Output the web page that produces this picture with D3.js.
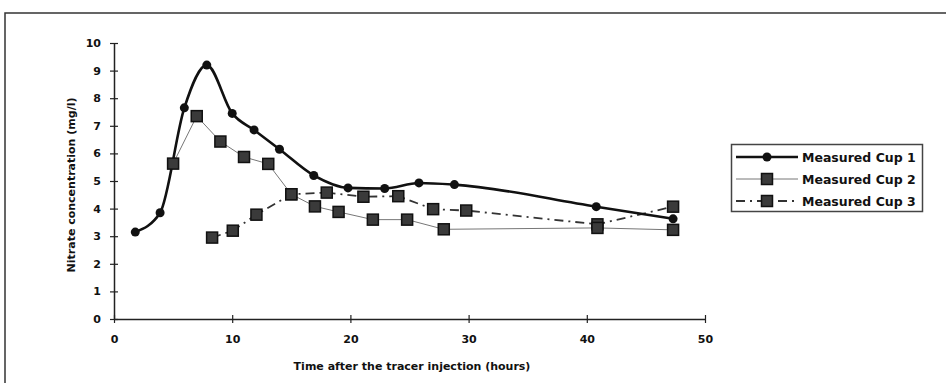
<!DOCTYPE html>
<html>
<head>
<meta charset="utf-8">
<script src="https://cdn.jsdelivr.net/npm/d3@7"></script>
<style>
  body { margin: 0; background: #fff; }
  svg { display: block; }
  text { font-family: "DejaVu Sans", sans-serif; font-weight: bold; fill: #111; }
</style>
</head>
<body>
<svg id="chart" width="946" height="383"></svg>
<script>
// values
const cup1Time = [1.8, 3.9, 5.95, 7.85, 10, 11.85, 14, 16.9, 19.8, 22.9, 25.8, 28.8, 40.8, 47.3];
const cup1Nitrate = [3.15, 3.85, 7.65, 9.2, 7.45, 6.85, 6.15, 5.2, 4.75, 4.73, 4.93, 4.87, 4.07, 3.63];

const cup2Time = [5, 7, 9, 11, 13.05, 15, 17, 19, 21.9, 24.8, 27.9, 40.9, 47.3];
const cup2Nitrate = [5.63, 7.35, 6.43, 5.87, 5.62, 4.52, 4.08, 3.88, 3.6, 3.6, 3.25, 3.3, 3.23];

const cup3Time = [8.3, 10.05, 12.05, 15, 18, 21.1, 24.05, 27, 29.8, 40.9, 47.3];
const cup3Nitrate = [2.95, 3.2, 3.78, 4.52, 4.58, 4.43, 4.45, 3.98, 3.93, 3.43, 4.07];

const xTicks = [0, 10, 20, 30, 40, 50];
const yTicks = [0, 1, 2, 3, 4, 5, 6, 7, 8, 9, 10];
const seriesNames = ["Measured Cup 1", "Measured Cup 2", "Measured Cup 3"];

const svg = d3.select("#chart");

// outer frame (right and bottom run off the page)
svg.append("rect")
  .attr("x", 5).attr("y", 13)
  .attr("width", 990).attr("height", 420)
  .attr("fill", "none")
  .attr("stroke", "#333")
  .attr("stroke-width", 1.5);

const x = d3.scaleLinear().domain([0, 50]).range([114, 705]);
const y = d3.scaleLinear().domain([0, 10]).range([319, 43]);

// axes, ticks cross the line like the excel original
const xAxis = svg.append("g").attr("transform", `translate(0,${y(0)})`)
  .call(d3.axisBottom(x).tickValues(xTicks).tickSizeInner(4).tickSizeOuter(0).tickPadding(12));
xAxis.select(".domain").attr("stroke", "#222").attr("stroke-width", 1.5);
xAxis.selectAll(".tick line").attr("y1", -4).attr("stroke", "#222").attr("stroke-width", 1.2);
xAxis.selectAll(".tick text").style("font-size", "11px").attr("fill", "#111");

const yAxis = svg.append("g").attr("transform", `translate(${x(0)},0)`)
  .call(d3.axisLeft(y).tickValues(yTicks).tickSizeInner(4).tickSizeOuter(0).tickPadding(9));
yAxis.select(".domain").attr("stroke", "#222").attr("stroke-width", 1.5);
yAxis.selectAll(".tick line").attr("x1", 4).attr("x2", -4).attr("stroke", "#222").attr("stroke-width", 1.2);
yAxis.selectAll(".tick text").style("font-size", "11px").attr("fill", "#111");

// axis titles
svg.append("text")
  .attr("x", 412).attr("y", 370)
  .attr("text-anchor", "middle")
  .style("font-size", "11px")
  .text("Time after the tracer injection (hours)");

svg.append("text")
  .attr("transform", `translate(75,${185}) rotate(-90)`)
  .attr("text-anchor", "middle")
  .style("font-size", "11px")
  .text("Nitrate concentration (mg/l)");

const toPoints = (ts, vs) => ts.map((t, i) => ({ t: t, v: vs[i] }));
const cup1 = toPoints(cup1Time, cup1Nitrate);
const cup2 = toPoints(cup2Time, cup2Nitrate);
const cup3 = toPoints(cup3Time, cup3Nitrate);

const smooth = d3.line().x(d => x(d.t)).y(d => y(d.v)).curve(d3.curveMonotoneX);
const straight = d3.line().x(d => x(d.t)).y(d => y(d.v));

const styles = [
  { color: "#111", width: 2.6, dash: null },
  { color: "#777", width: 1, dash: null },
  { color: "#333", width: 1.8, dash: "9,5,2,5" }
];

const plot = svg.append("g");

plot.append("path").datum(cup3).attr("d", straight)
  .attr("fill", "none").attr("stroke", styles[2].color)
  .attr("stroke-width", styles[2].width).attr("stroke-dasharray", styles[2].dash);
plot.append("path").datum(cup2).attr("d", straight)
  .attr("fill", "none").attr("stroke", styles[1].color).attr("stroke-width", styles[1].width);
plot.append("path").datum(cup1).attr("d", smooth)
  .attr("fill", "none").attr("stroke", styles[0].color).attr("stroke-width", styles[0].width);

// markers
const sq = 11;
function squares(data) {
  plot.append("g").selectAll("rect").data(data).enter().append("rect")
    .attr("x", d => x(d.t) - sq / 2)
    .attr("y", d => y(d.v) - sq / 2)
    .attr("width", sq).attr("height", sq)
    .attr("fill", "#3a3a3a")
    .attr("stroke", "#111").attr("stroke-width", 1.5);
}
squares(cup3);
squares(cup2);

plot.append("g").selectAll("circle").data(cup1).enter().append("circle")
  .attr("cx", d => x(d.t)).attr("cy", d => y(d.v))
  .attr("r", 4.5)
  .attr("fill", "#111");

// legend
const legend = svg.append("g");
legend.append("rect")
  .attr("x", 731.5).attr("y", 144.5)
  .attr("width", 191).attr("height", 67)
  .attr("fill", "#fff").attr("stroke", "#444").attr("stroke-width", 1.5);

const rowY = [157, 179, 201];
seriesNames.forEach((name, i) => {
  const g = legend.append("g").attr("transform", `translate(0,${rowY[i]})`);
  g.append("line")
    .attr("x1", 736).attr("x2", 798)
    .attr("stroke", styles[i].color)
    .attr("stroke-width", styles[i].width)
    .attr("stroke-dasharray", styles[i].dash);
  if (i === 0) {
    g.append("circle")
      .attr("cx", 767).attr("cy", 0).attr("r", 4.5)
      .attr("fill", "#111");
  } else {
    g.append("rect")
      .attr("x", 767 - sq / 2).attr("y", -sq / 2)
      .attr("width", sq).attr("height", sq)
      .attr("fill", "#3a3a3a").attr("stroke", "#111").attr("stroke-width", 1.5);
  }
  g.append("text")
    .attr("x", 802).attr("y", 0).attr("dy", "0.36em")
    .style("font-size", "12.5px")
    .text(name);
});
</script>
</body>
</html>
